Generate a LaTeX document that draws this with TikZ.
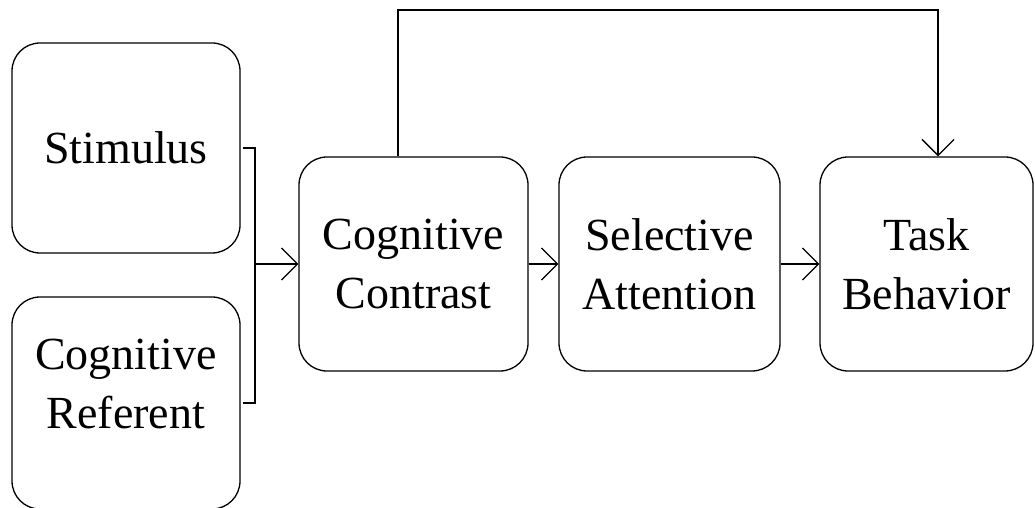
\documentclass[tikz,border=0pt]{standalone}
\usepackage{fontspec}
\setmainfont{Liberation Serif}
\usetikzlibrary{arrows.meta}
\begin{document}
\begin{tikzpicture}[x=1pt,y=1pt,
  box/.style={draw, line width=1.3pt, rounded corners=28pt, inner sep=0pt,
    align=center, font=\fontsize{46}{59}\selectfont},
  lbl/.style={align=center, inner sep=0pt, font=\fontsize{46}{59}\selectfont},
  conn/.style={line width=1.3pt},
  arr/.style={conn, -{Straight Barb[length=16pt,width=32pt]}}]
\useasboundingbox (0,0) rectangle (1035,508);
\clip (0,0) rectangle (1035,508);

% inputs
\node[box, minimum width=228pt, minimum height=210pt] (stim) at (126,360) {Stimulus};
\node[box, minimum width=228pt, minimum height=212pt] (ref) at (126,105) {};
\node[lbl] (reftext) at (126,124) {Cognitive\\Referent};

% main chain
\node[box, minimum width=229pt, minimum height=214pt] (con) at (413.5,244) {Cognitive\\Contrast};
\node[box, minimum width=221pt, minimum height=214pt] (sel) at (669.5,244) {Selective\\Attention};
\node[box, minimum width=213pt, minimum height=214pt] (task) at (926.5,244) {Task\\Behavior};

% bracket joining the two inputs
\coordinate (bx) at (255,0);
\draw[conn] ([xshift=2pt]stim.east) -| (bx |- ref.east) -- ([xshift=2pt]ref.east);
\draw[arr] (bx |- con.west) -- (con.west);

\draw[arr] (con.east) -- (sel.west);
\draw[arr] (sel.east) -- (task.west);

% direct path from contrast to behavior
\coordinate (fbL) at (398,498);
\coordinate (fbR) at (938,498);
\draw[arr] (fbL |- con.north) -- (fbL) -- (fbR) -- (fbR |- task.north);
\end{tikzpicture}
\end{document}
